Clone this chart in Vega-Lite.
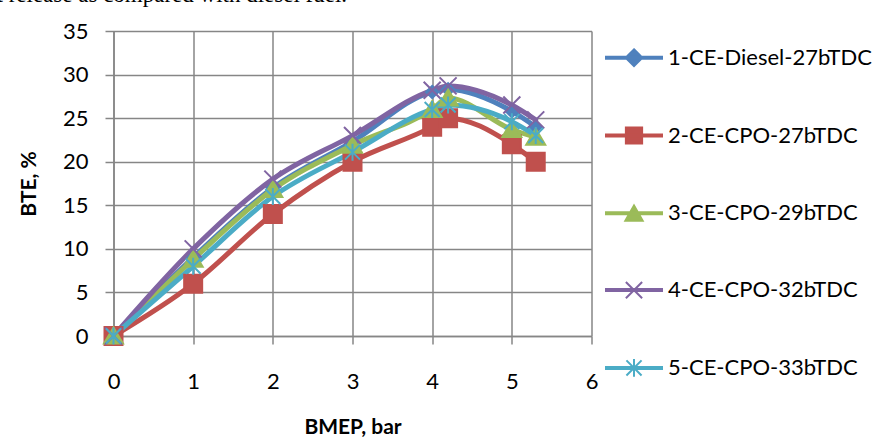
{
  "$schema": "https://vega.github.io/schema/vega-lite/v6.json",
  "width": 478,
  "height": 305,
  "autosize": {"type": "none"},
  "padding": {"left": 113.5, "top": 31, "right": 293.5, "bottom": 103},
  "background": "white",
  "title": {
    "text": "t release as compared with diesel fuel.",
    "anchor": "start",
    "frame": "group",
    "baseline": "alphabetic",
    "offset": 6,
    "dx": -117,
    "dy": 11,
    "font": "Liberation Serif",
    "fontSize": 23,
    "fontWeight": "normal",
    "color": "black"
  },
  "config": {"view": {"stroke": null}, "font": "Lato"},
  "data": {
    "values": [
      {"series": "1-CE-Diesel-27bTDC", "BMEP": 0, "BTE": 0},
      {"series": "1-CE-Diesel-27bTDC", "BMEP": 1, "BTE": 9},
      {"series": "1-CE-Diesel-27bTDC", "BMEP": 2, "BTE": 17},
      {"series": "1-CE-Diesel-27bTDC", "BMEP": 3, "BTE": 22.3},
      {"series": "1-CE-Diesel-27bTDC", "BMEP": 4, "BTE": 28},
      {"series": "1-CE-Diesel-27bTDC", "BMEP": 4.2, "BTE": 28.3},
      {"series": "1-CE-Diesel-27bTDC", "BMEP": 5, "BTE": 25.8},
      {"series": "1-CE-Diesel-27bTDC", "BMEP": 5.3, "BTE": 24},
      {"series": "2-CE-CPO-27bTDC", "BMEP": 0, "BTE": 0},
      {"series": "2-CE-CPO-27bTDC", "BMEP": 1, "BTE": 6},
      {"series": "2-CE-CPO-27bTDC", "BMEP": 2, "BTE": 14},
      {"series": "2-CE-CPO-27bTDC", "BMEP": 3, "BTE": 20},
      {"series": "2-CE-CPO-27bTDC", "BMEP": 4, "BTE": 24},
      {"series": "2-CE-CPO-27bTDC", "BMEP": 4.2, "BTE": 25},
      {"series": "2-CE-CPO-27bTDC", "BMEP": 5, "BTE": 22},
      {"series": "2-CE-CPO-27bTDC", "BMEP": 5.3, "BTE": 20},
      {"series": "3-CE-CPO-29bTDC", "BMEP": 0, "BTE": 0},
      {"series": "3-CE-CPO-29bTDC", "BMEP": 1, "BTE": 8.8},
      {"series": "3-CE-CPO-29bTDC", "BMEP": 2, "BTE": 16.8},
      {"series": "3-CE-CPO-29bTDC", "BMEP": 3, "BTE": 21.9},
      {"series": "3-CE-CPO-29bTDC", "BMEP": 4, "BTE": 26},
      {"series": "3-CE-CPO-29bTDC", "BMEP": 4.2, "BTE": 27.3},
      {"series": "3-CE-CPO-29bTDC", "BMEP": 5, "BTE": 23.7},
      {"series": "3-CE-CPO-29bTDC", "BMEP": 5.3, "BTE": 22.8},
      {"series": "4-CE-CPO-32bTDC", "BMEP": 0, "BTE": 0},
      {"series": "4-CE-CPO-32bTDC", "BMEP": 1, "BTE": 10},
      {"series": "4-CE-CPO-32bTDC", "BMEP": 2, "BTE": 18},
      {"series": "4-CE-CPO-32bTDC", "BMEP": 3, "BTE": 23},
      {"series": "4-CE-CPO-32bTDC", "BMEP": 4, "BTE": 28.2},
      {"series": "4-CE-CPO-32bTDC", "BMEP": 4.2, "BTE": 28.7},
      {"series": "4-CE-CPO-32bTDC", "BMEP": 5, "BTE": 26.5},
      {"series": "4-CE-CPO-32bTDC", "BMEP": 5.3, "BTE": 24.8},
      {"series": "5-CE-CPO-33bTDC", "BMEP": 0, "BTE": 0},
      {"series": "5-CE-CPO-33bTDC", "BMEP": 1, "BTE": 8},
      {"series": "5-CE-CPO-33bTDC", "BMEP": 2, "BTE": 16},
      {"series": "5-CE-CPO-33bTDC", "BMEP": 3, "BTE": 21.1},
      {"series": "5-CE-CPO-33bTDC", "BMEP": 4, "BTE": 26},
      {"series": "5-CE-CPO-33bTDC", "BMEP": 4.2, "BTE": 26.5},
      {"series": "5-CE-CPO-33bTDC", "BMEP": 5, "BTE": 24.6},
      {"series": "5-CE-CPO-33bTDC", "BMEP": 5.3, "BTE": 23}
    ]
  },
  "encoding": {
    "x": {
      "field": "BMEP",
      "type": "quantitative",
      "scale": {"domain": [0, 6], "nice": false, "zero": false},
      "axis": {
        "values": [0, 1, 2, 3, 4, 5, 6],
        "format": "d",
        "title": "BMEP, bar",
        "titleFont": "Lato",
        "titleFontSize": 21,
        "titleFontWeight": "bold",
        "titleColor": "black",
        "titleY": 97,
        "titleBaseline": "alphabetic",
        "labelFont": "Lato",
        "labelFontSize": 22,
        "labelColor": "black",
        "labelPadding": 27.5,
        "labelFlush": false,
        "labelOverlap": false,
        "tickSize": 8,
        "tickColor": "#868686",
        "tickWidth": 1.5,
        "domainColor": "#868686",
        "domainWidth": 1.5,
        "gridColor": "#868686",
        "gridWidth": 1.5,
        "gridOpacity": 1
      }
    },
    "y": {
      "field": "BTE",
      "type": "quantitative",
      "scale": {"domain": [0, 35], "nice": false},
      "axis": {
        "values": [0, 5, 10, 15, 20, 25, 30, 35],
        "title": "BTE, %",
        "titleFont": "Lato",
        "titleFontSize": 21,
        "titleFontWeight": "bold",
        "titleColor": "black",
        "titleAngle": -90,
        "titleX": -78.5,
        "titleY": 152.5,
        "titleAlign": "center",
        "titleBaseline": "alphabetic",
        "labelFont": "Lato",
        "labelFontSize": 22,
        "labelColor": "black",
        "labelPadding": 17,
        "labelFlush": false,
        "labelOverlap": false,
        "tickSize": 8.5,
        "tickColor": "#868686",
        "tickWidth": 1.5,
        "domainColor": "#868686",
        "domainWidth": 1.5,
        "gridColor": "#868686",
        "gridWidth": 1.5,
        "gridOpacity": 1
      }
    }
  },
  "layer": [
    {
      "mark": {"type": "line", "strokeWidth": 5, "interpolate": "monotone", "strokeCap": "round", "strokeJoin": "round"},
      "encoding": {
        "color": {
          "field": "series",
          "type": "nominal",
          "scale": {
            "domain": ["1-CE-Diesel-27bTDC", "2-CE-CPO-27bTDC", "3-CE-CPO-29bTDC", "4-CE-CPO-32bTDC", "5-CE-CPO-33bTDC"],
            "range": ["#4F81BD", "#C0504D", "#9BBB59", "#8064A2", "#4BACC6"]
          },
          "legend": {
            "orient": "none",
            "legendX": 491.5,
            "legendY": -2.3,
            "title": null,
            "padding": 0,
            "symbolType": "M-1,-0.036H1V0.036H-1Z",
            "symbolSize": 3136,
            "symbolStrokeWidth": 2,
            "rowPadding": 35.8,
            "labelOffset": 5,
            "labelFont": "Lato",
            "labelFontSize": 22,
            "labelColor": "black",
            "labelLimit": 0,
            "encode": {
              "symbols": {
                "update": {
                  "shape": {"signal": "datum.value == '1-CE-Diesel-27bTDC' ? 'M-1,-0.036H1V0.036H-1Z M0,-0.3L0.3,0L0,0.3L-0.3,0Z' : datum.value == '2-CE-CPO-27bTDC' ? 'M-1,-0.036H1V0.036H-1Z M-0.29,-0.29H0.29V0.29H-0.29Z' : datum.value == '3-CE-CPO-29bTDC' ? 'M-1,-0.036H1V0.036H-1Z M0,-0.28L0.31,0.27H-0.31Z' : datum.value == '4-CE-CPO-32bTDC' ? 'M-1,-0.036H1V0.036H-1Z M-0.29,-0.29L0.29,0.29M-0.29,0.29L0.29,-0.29' : 'M-1,-0.036H1V0.036H-1Z M-0.27,-0.27L0.27,0.27M-0.27,0.27L0.27,-0.27M0,-0.32V0.32'"},
                  "fill": {"signal": "scale('color', datum.value)"},
                  "stroke": {"signal": "scale('color', datum.value)"},
                  "strokeWidth": {"value": 2},
                  "size": {"value": 3136},
                  "opacity": {"value": 1},
                  "fillOpacity": {"value": 1},
                  "strokeOpacity": {"value": 1}
                }
              }
            }
          }
        }
      }
    },
    {
      "transform": [{"filter": "datum.series == '1-CE-Diesel-27bTDC'"}],
      "mark": {"type": "point", "filled": true, "opacity": 1, "strokeWidth": 2, "size": 400, "fill": "#4F81BD", "stroke": "#4F81BD", "shape": "M0,-0.62L0.62,0L0,0.62L-0.62,0Z"}
    },
    {
      "transform": [{"filter": "datum.series == '2-CE-CPO-27bTDC'"}],
      "mark": {"type": "point", "filled": true, "opacity": 1, "strokeWidth": 2, "size": 400, "fill": "#C0504D", "stroke": "#C0504D", "shape": "M-0.9,-0.9H0.9V0.9H-0.9Z"}
    },
    {
      "transform": [{"filter": "datum.series == '3-CE-CPO-29bTDC'"}],
      "mark": {"type": "point", "filled": true, "opacity": 1, "strokeWidth": 2, "size": 400, "fill": "#9BBB59", "stroke": "#9BBB59", "shape": "M0,-0.85L0.95,0.75H-0.95Z"}
    },
    {
      "transform": [{"filter": "datum.series == '4-CE-CPO-32bTDC'"}],
      "mark": {"type": "point", "filled": true, "opacity": 1, "strokeWidth": 2, "size": 400, "fill": "#8064A2", "stroke": "#8064A2", "shape": "M-0.85,-0.85L0.85,0.85M-0.85,0.85L0.85,-0.85"}
    },
    {
      "transform": [{"filter": "datum.series == '5-CE-CPO-33bTDC'"}],
      "mark": {"type": "point", "filled": true, "opacity": 1, "strokeWidth": 2, "size": 400, "fill": "#4BACC6", "stroke": "#4BACC6", "shape": "M-0.75,-0.75L0.75,0.75M-0.75,0.75L0.75,-0.75M0,-0.85V0.85"}
    }
  ]
}
